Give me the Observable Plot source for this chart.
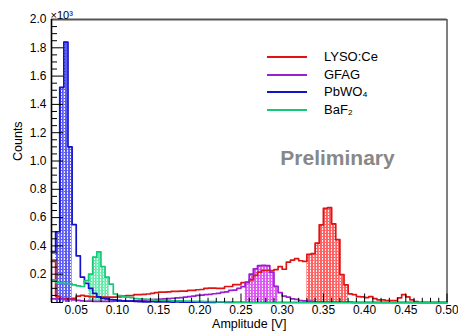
<!DOCTYPE html>
<html>
<head>
<meta charset="utf-8">
<script src="https://cdn.jsdelivr.net/npm/d3@7"></script>
<script src="https://cdn.jsdelivr.net/npm/@observablehq/plot@0.6"></script>
<style>
  body { margin: 0; background: #fff; font-family: "Liberation Sans", Arial, sans-serif; }
  #wrap { position: relative; width: 458px; height: 333px; }
  #legend { position: absolute; left: 267px; top: 48px; }
  .row { position: relative; height: 17.5px; width: 140px; }
  .row .swatch { position: absolute; left: 0; top: 8px; width: 40px; height: 2px; }
  .row .name { position: absolute; left: 57px; top: 0; line-height: 17.5px; font-size: 13px; color: #000; white-space: nowrap; }
</style>
</head>
<body>
<div id="wrap"><div id="legend"></div></div>
<script>
// Histogram binning: 96 bins of 5 mV covering the displayed range
const binStart = 0.02;
const binWidth = 0.005;
const xMin = 0.02, xMax = 0.5;
const yMax = 2000;

const xTickValues = [0.05, 0.10, 0.15, 0.20, 0.25, 0.30, 0.35, 0.40, 0.45, 0.50];
const xTickLabels = ["0.05", "0.10", "0.15", "0.20", "0.25", "0.30", "0.35", "0.40", "0.45", "0.50"];
const yTickValues = [200, 400, 600, 800, 1000, 1200, 1400, 1600, 1800, 2000];
const yTickLabels = ["0.2", "0.4", "0.6", "0.8", "1.0", "1.2", "1.4", "1.6", "1.8", "2.0"];

const seriesNames = ["LYSO:Ce", "GFAG", "PbWO\u2084", "BaF\u2082"];
const lineColors = ["#dd1414", "#9a1fd0", "#1212c8", "#14c878"];
const fillColors = ["#ff6262", "#dc58f0", "#5c5cf0", "#62eeaa"];

// counts per bin
const lysoCounts = [
  290, 45, 30, 28, 25, 30, 45, 50, 45, 42,
  40, 40, 38, 38, 38, 38, 40, 45, 49, 49,
  56, 56, 58, 60, 65, 70, 73, 73, 75, 78,
  78, 80, 80, 85, 85, 90, 92, 100, 101, 101,
  100, 100, 113, 113, 127, 127, 140, 144, 160, 191,
  215, 226, 226, 226, 233, 254, 235, 285, 300, 310,
  295, 290, 340, 345, 419, 549, 665, 670, 556, 445,
  198, 125, 61, 56, 42, 40, 35, 42, 28, 19,
  19, 14, 14, 14, 33, 56, 40, 19, 7, 0,
  0, 0, 0, 0, 0, 0
];
const gfagCounts = [
  25, 30, 25, 20, 22, 18, 15, 12, 10, 10,
  8, 8, 8, 8, 8, 10, 10, 10, 10, 12,
  12, 14, 15, 18, 20, 22, 24, 25, 28, 30,
  32, 35, 38, 42, 45, 50, 52, 55, 58, 62,
  65, 72, 75, 85, 88, 100, 112, 140, 200, 238,
  260, 262, 260, 214, 115, 70, 45, 38, 26, 22,
  14, 12, 10, 8, 5, 5, 3, 3, 3, 3,
  3, 2, 2, 0, 0, 0, 0, 0, 0, 0,
  0, 0, 0, 0, 0, 0, 0, 0, 0, 0,
  0, 0, 0, 0, 0, 0
];
const pbwoCounts = [
  360, 500, 1520, 1840, 1100, 550, 330, 180, 135, 100,
  65, 40, 30, 25, 20, 18, 15, 12, 10, 10,
  8, 6, 5, 5, 6, 5, 4, 5, 4, 3,
  4, 3, 3, 2, 2, 2, 2, 1, 1, 1,
  3, 2, 0, 0, 0, 0, 0, 0, 0, 0,
  0, 0, 0, 0, 0, 0, 0, 0, 0, 0,
  0, 0, 0, 0, 0, 0, 0, 0, 0, 0,
  0, 0, 0, 0, 0, 0, 0, 0, 0, 0,
  0, 0, 0, 0, 0, 0, 0, 0, 0, 0,
  0, 0, 0, 0, 0, 0
];
const baf2Counts = [
  160, 140, 137, 135, 134, 125, 118, 113, 155, 200,
  320, 358, 254, 179, 130, 60, 48, 40, 38, 35,
  28, 26, 24, 22, 20, 16, 16, 15, 14, 12,
  12, 11, 10, 10, 9, 8, 8, 7, 6, 6,
  5, 5, 4, 4, 3, 3, 2, 2, 1, 1,
  0, 0, 0, 0, 0, 0, 0, 0, 0, 0,
  0, 0, 0, 0, 0, 0, 0, 0, 0, 0,
  0, 0, 0, 0, 0, 0, 0, 0, 0, 0,
  0, 0, 0, 0, 0, 0, 0, 0, 0, 0,
  0, 0, 0, 0, 0, 0
];
// first and last bin of the shaded peak window of each crystal
const peakWindows = [[62, 71], [47, 54], [1, 4], [9, 13]];

const allCounts = [lysoCounts, gfagCounts, pbwoCounts, baf2Counts];

const series = allCounts.map((counts, s) => {
  const bins = counts.map((c, i) => ({
    x1: binStart + i * binWidth,
    x2: binStart + (i + 1) * binWidth,
    count: c,
    inWindow: i >= peakWindows[s][0] && i <= peakWindows[s][1]
  }));
  const steps = bins.map(b => ({x: b.x1, y: b.count}));
  steps.push({x: bins[bins.length - 1].x2, y: bins[bins.length - 1].count});
  return {bins, steps};
});

const xMinor = d3.range(2, 51).map(i => i / 100).filter(v => !xTickValues.some(t => Math.abs(t - v) < 1e-9));
const yMinor = d3.range(0, yMax + 1, 50).filter(v => v % 200 !== 0);
const yMajor = [0, ...yTickValues];

const plotW = 458 - 51 - 11.5;
const plotH = 333 - 19 - 31;

const marks = [];
// shaded peak windows
series.forEach((s, i) => {
  marks.push(Plot.rectY(s.bins.filter(b => b.inWindow), {
    x1: "x1", x2: "x2", y: "count", fill: `url(#hatch-${i})`
  }));
});
// histogram outlines
series.forEach((s, i) => {
  marks.push(Plot.line(s.steps, {
    x: "x", y: "y", curve: "step-after", stroke: lineColors[i], strokeWidth: 1.7
  }));
});
marks.push(
  Plot.tickX(xTickValues, {x: d => d, insetTop: plotH - 8.5, stroke: "black"}),
  Plot.tickX(xMinor, {x: d => d, insetTop: plotH - 4.2, stroke: "black"}),
  Plot.tickY(yMajor, {y: d => d, insetRight: plotW - 12, stroke: "black"}),
  Plot.tickY(yMinor, {y: d => d, insetRight: plotW - 6, stroke: "black"}),
  Plot.ruleY([yMax], {stroke: "#555", strokeWidth: 2}),
  Plot.ruleX([xMax], {stroke: "black", strokeWidth: 1}),
  Plot.ruleX([xMin], {stroke: "black", strokeWidth: 1.6}),
  Plot.axisX(xTickValues, {
    tickSize: 0, tickPadding: 3, label: null, fontSize: 12,
    tickFormat: d => xTickLabels[xTickValues.indexOf(d)]
  }),
  Plot.axisY(yTickValues, {
    tickSize: 0, tickPadding: 5, label: null, fontSize: 12,
    tickFormat: d => yTickLabels[yTickValues.indexOf(d)]
  }),
  Plot.text(["\u00d710\u00b3"], {frameAnchor: "top-left", dx: -1, dy: -1, textAnchor: "start", lineAnchor: "bottom", fontSize: 11}),
  Plot.text(["Counts"], {frameAnchor: "left", dx: -34, rotate: -90, fontSize: 12.5}),
  Plot.text(["Amplitude [V]"], {frameAnchor: "bottom", dy: 17, lineAnchor: "top", fontSize: 12.5}),
  Plot.text(["Preliminary"], {
    frameAnchor: "top-left", dx: 286, dy: 131, lineAnchor: "top", textAnchor: "middle",
    fontSize: 21, fontWeight: "bold", fill: "#888"
  })
);

const chart = Plot.plot({
  width: 458,
  height: 333,
  marginLeft: 51,
  marginRight: 11.5,
  marginTop: 19,
  marginBottom: 31,
  x: {domain: [xMin, xMax]},
  y: {domain: [0, yMax]},
  style: {fontFamily: "'Liberation Sans', Arial, sans-serif", fontSize: "12px", background: "white", color: "black"},
  marks
});

// hatched fill patterns: colour with white dotted vertical strokes
const svg = d3.select(chart.tagName.toLowerCase() === "svg" ? chart : chart.querySelector("svg"));
const defs = svg.insert("defs", ":first-child");
fillColors.forEach((c, i) => {
  const p = defs.append("pattern")
    .attr("id", `hatch-${i}`)
    .attr("patternUnits", "userSpaceOnUse")
    .attr("width", 3).attr("height", 3);
  p.append("rect").attr("width", 3).attr("height", 3).attr("fill", c);
  p.append("rect").attr("x", 1).attr("y", 0).attr("width", 1).attr("height", 2).attr("fill", "white").attr("opacity", 0.9);
});

document.getElementById("wrap").prepend(chart);

// legend
const legend = d3.select("#legend");
seriesNames.forEach((name, i) => {
  const row = legend.append("div").attr("class", "row");
  row.append("div").attr("class", "swatch").style("background", lineColors[i]);
  row.append("div").attr("class", "name").text(name);
});
</script>
</body>
</html>
